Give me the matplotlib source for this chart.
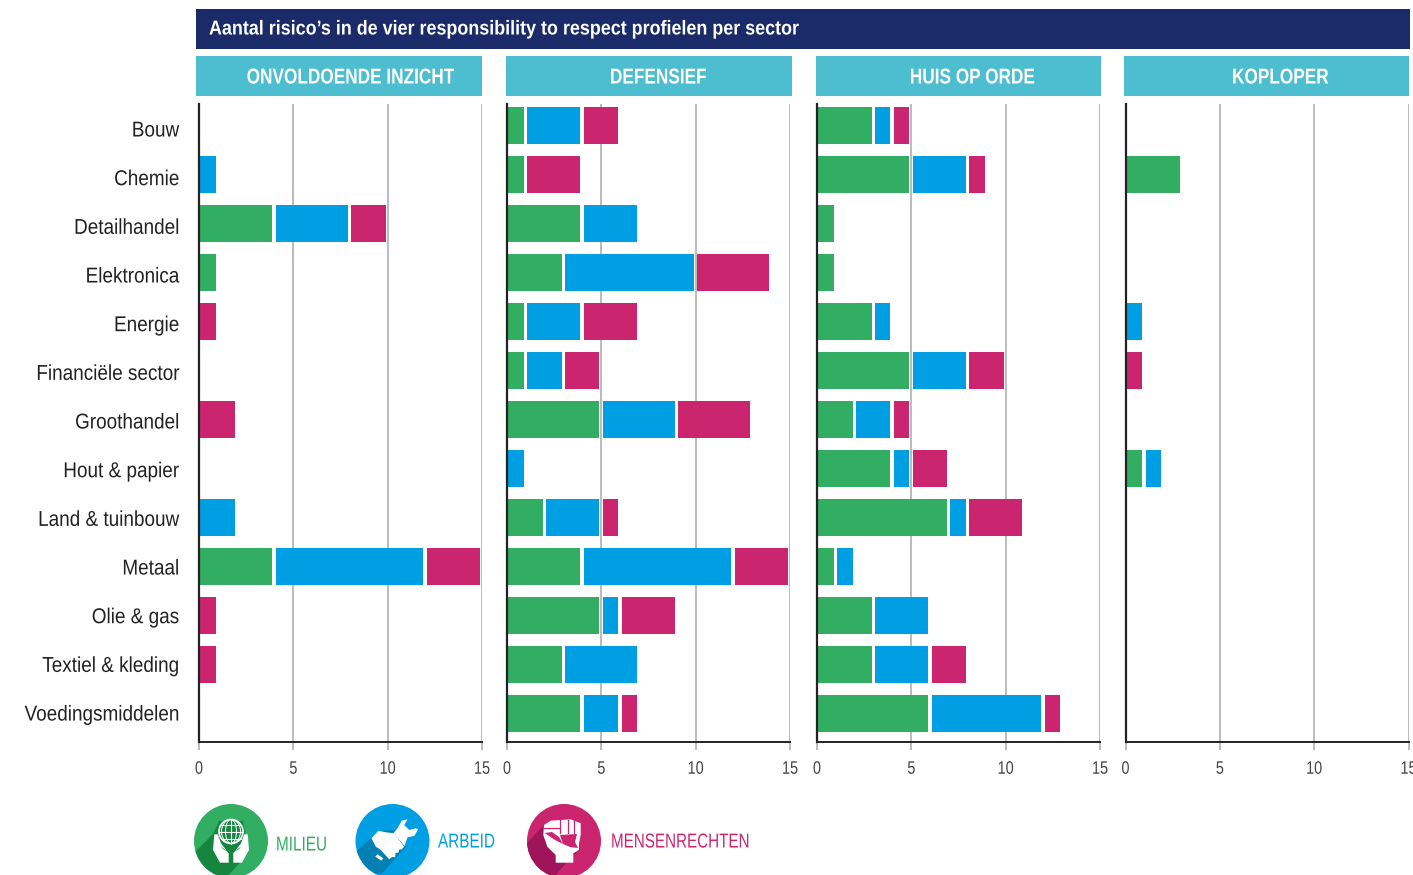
#!/usr/bin/env python3
"""Aantal risico's per sector in de vier responsibility to respect profielen."""

from __future__ import annotations

import matplotlib

matplotlib.use("Agg")

import matplotlib.pyplot as plt
from matplotlib.patches import Circle, Ellipse, Polygon, Rectangle
from matplotlib.patheffects import AbstractPathEffect
from matplotlib.transforms import Affine2D

plt.rcParams["font.family"] = ["Liberation Sans", "DejaVu Sans"]

WIDTH = 1413
HEIGHT = 875

TITLE = "Aantal risico’s in de vier responsibility to respect profielen per sector"
SECTORS = [
    "Bouw", "Chemie", "Detailhandel", "Elektronica", "Energie",
    "Financiële sector", "Groothandel", "Hout & papier", "Land & tuinbouw",
    "Metaal", "Olie & gas", "Textiel & kleding", "Voedingsmiddelen",
]
PROFILES = ["ONVOLDOENDE INZICHT", "DEFENSIEF", "HUIS OP ORDE", "KOPLOPER"]
TICKS = [0, 5, 10, 15]

MILIEU = [
    [0, 0, 4, 1, 0, 0, 0, 0, 0, 4, 0, 0, 0],
    [1, 1, 4, 3, 1, 1, 5, 0, 2, 4, 5, 3, 4],
    [3, 5, 1, 1, 3, 5, 2, 4, 7, 1, 3, 3, 6],
    [0, 3, 0, 0, 0, 0, 0, 1, 0, 0, 0, 0, 0],
]
ARBEID = [
    [0, 1, 4, 0, 0, 0, 0, 0, 2, 8, 0, 0, 0],
    [3, 0, 3, 7, 3, 2, 4, 1, 3, 8, 1, 4, 2],
    [1, 3, 0, 0, 1, 3, 2, 1, 1, 1, 3, 3, 6],
    [0, 0, 0, 0, 1, 0, 0, 1, 0, 0, 0, 0, 0],
]
MENSENRECHTEN = [
    [0, 0, 2, 0, 1, 0, 2, 0, 0, 3, 1, 1, 0],
    [2, 3, 0, 4, 3, 2, 4, 0, 1, 3, 3, 0, 1],
    [1, 1, 0, 0, 0, 2, 1, 2, 3, 0, 0, 2, 1],
    [0, 0, 0, 0, 0, 1, 0, 0, 0, 0, 0, 0, 0],
]

GREEN = "#31ae62"
BLUE = "#009fe3"
MAGENTA = "#cb2570"
NAVY = "#1b2a68"
TEAL = "#4dbdd0"

PANEL_LEFT = [199, 507, 817, 1125.5]
PANEL_WIDTH = 283
HEADER_SPANS = [(196, 482), (506, 792), (816, 1101), (1124, 1409)]
HEADER_CENTERS = [350, 658, 972, 1280]
GAP_BEFORE = 0.07  # white gap around segment joins, in axis units
GAP_AFTER = 0.11
ICON_Y = 841


class Squeeze(AbstractPathEffect):
    """Narrow a text around a pixel x, there is no condensed font installed."""

    def __init__(self, anchor_x, factor):
        super().__init__()
        self.anchor_x = anchor_x
        self.factor = factor

    def draw_path(self, renderer, gc, tpath, affine, rgbFace=None):
        squeeze = Affine2D().translate(-self.anchor_x, 0).scale(self.factor, 1).translate(self.anchor_x, 0)
        renderer.draw_path(gc, tpath, affine + squeeze, rgbFace)


def add_pixel_axes(fig):
    """Full figure axes in reference pixels, for headers, labels and icons."""
    ax = fig.add_axes([0, 0, 1, 1], zorder=5)
    ax.set_xlim(0, WIDTH)
    ax.set_ylim(HEIGHT, 0)
    ax.axis("off")
    ax.patch.set_alpha(0)
    return ax


def narrow_text(ax, x, y, text, factor, **kwargs):
    label = ax.text(x, y, text, va="center", **kwargs)
    label.set_path_effects([Squeeze(x, factor)])
    return label


def draw_headers(ax):
    ax.add_patch(Rectangle((196, 9), 1214, 40, color=NAVY, lw=0))
    narrow_text(ax, 209, 29, TITLE, 0.89, color="white", fontsize=14.5,
                fontweight="bold", ha="left")
    for (x0, x1), center, name in zip(HEADER_SPANS, HEADER_CENTERS, PROFILES):
        ax.add_patch(Rectangle((x0, 56), x1 - x0, 40, color=TEAL, lw=0))
        narrow_text(ax, center, 78, name, 0.8, color="white", fontsize=15.5,
                    fontweight="bold", ha="center")


def draw_panel(fig, left, milieu, arbeid, mensenrechten):
    # axis runs 104..742 px, the row pitch is 49 px with first bar centre at 125.5
    ax = fig.add_axes([left / WIDTH, 1 - 742 / HEIGHT, PANEL_WIDTH / WIDTH, 638 / HEIGHT])
    ax.set_xlim(0, 15)
    ax.set_ylim((742 - 125.5) / 49, (104 - 125.5) / 49)
    ax.patch.set_alpha(0)

    lefts = [0] * len(SECTORS)
    for values, color in ((milieu, GREEN), (arbeid, BLUE), (mensenrechten, MAGENTA)):
        for row, value in enumerate(values):
            if value > 0:
                start = lefts[row] + (GAP_BEFORE if lefts[row] > 0 else 0)
                end = lefts[row] + value - GAP_AFTER
                ax.barh(row, end - start, left=start, height=0.755,
                        color=color, linewidth=0, zorder=2)
            lefts[row] += value

    ax.set_xticks(TICKS)
    ax.set_yticks([])
    ax.grid(True, axis="x", color="#b5b5b5", linewidth=1.3, zorder=1)
    ax.set_axisbelow(True)
    ax.tick_params(axis="x", length=5.5, width=1.3, color="#b5b5b5", pad=8,
                   labelsize=13, labelcolor="#444444")
    ax.get_xticklines()[0].set_color("#222222")
    px_per_unit = PANEL_WIDTH / 15
    for tick, label in zip(TICKS, ax.get_xticklabels()):
        label.set_path_effects([Squeeze(left + tick * px_per_unit, 0.8)])
    for name in ("top", "right"):
        ax.spines[name].set_visible(False)
    ax.spines["left"].set_linewidth(1.6)
    ax.spines["left"].set_color("#222222")
    ax.spines["bottom"].set_linewidth(1.4)
    ax.spines["bottom"].set_color("#222222")
    ax.spines["left"].set_zorder(4)
    return ax


def draw_sector_labels(ax):
    for i, sector in enumerate(SECTORS):
        narrow_text(ax, 179, 131 + i * 48.67, sector, 0.88, ha="right",
                    fontsize=15.5, color="#222222")


def icon_poly(ax, cx, pts, color="white"):
    poly = Polygon([(cx + x, ICON_Y + y) for x, y in pts], color=color, lw=0)
    ax.add_patch(poly)
    return poly


def icon_base(ax, cx, color, shadow, shadow_shape):
    disc = Circle((cx, ICON_Y), 37, color=color, lw=0)
    ax.add_patch(disc)
    icon_poly(ax, cx, shadow_shape, shadow).set_clip_path(disc)


def draw_milieu_icon(ax, cx):
    icon_base(ax, cx, GREEN, "#16863f",
              [(-42, 17), (-18, -7), (-12, -20), (12, -20), (17, 8), (16, 14), (-8, 40), (-42, 40)])
    globe_y = ICON_Y - 9.5
    ax.add_patch(Circle((cx, globe_y), 12, fill=False, ec="white", lw=1.2))
    for width in (11, 19):
        ax.add_patch(Ellipse((cx, globe_y), width, 24, fill=False, ec="white", lw=0.7))
    ax.plot([cx, cx], [globe_y - 12, globe_y + 12], color="white", lw=0.8)
    for dy, half in ((-7, 9.7), (0, 12), (7, 9.7)):
        ax.plot([cx - half, cx + half], [globe_y + dy] * 2, color="white", lw=0.8)
    hand = [(-16.7, -6.7), (-18, 9), (-11, 21.7), (-2.3, 21.7), (-2.3, 12.3),
            (-10, 2.3), (-13.3, -6.7)]
    thumb_gap = [(-10, 6), (-5, 9), (-3, 11), (-8, 8)]
    for sign in (1, -1):
        icon_poly(ax, cx, [(sign * x, y) for x, y in hand])
        icon_poly(ax, cx, [(sign * x, y) for x, y in thumb_gap], "#16863f")


def draw_arbeid_icon(ax, cx):
    icon_base(ax, cx, BLUE, "#0280b4",
              [(-42, 15), (-21, -3), (-14, -10), (3, -11), (8, -6), (13, 6), (-10, 32), (-42, 40)])
    icon_poly(ax, cx, [(-21, -2.7), (-14, -10.3), (-6.7, -8.7), (1.7, -7.7), (11.7, 5.7), (9, 8.5),
                       (6.7, 8.5), (6, 11.5), (3, 12), (2.7, 16.3), (-0.5, 16), (-3.3, 18.3),
                       (-11.7, 9), (-16.7, 5.7)])
    icon_poly(ax, cx, [(-17.3, 15.7), (-15, 13.3), (-9.3, 17.3), (-11, 19.7)])
    icon_poly(ax, cx, [(1, -8), (5, -12.7), (9.3, -20.3), (15, -21.7), (11.7, -16), (16.7, -11),
                       (23.3, -12.7), (25.7, -11.7), (21.7, -5), (15, -3.7), (12, 5)])


def draw_mensenrechten_icon(ax, cx):
    icon_base(ax, cx, MAGENTA, "#a0145b",
              [(-42, 7), (-20, -16), (0, -10), (16, 9), (9.5, 14), (-10, 36), (-42, 40)])
    icon_poly(ax, cx, [(-20, -16), (-13.3, -20.3), (6.7, -21.7), (16.7, -17.7), (16.7, -6), (15, 2.3),
                       (15, 9), (9.3, 12.3), (9.3, 21.7), (-8.3, 21.7), (-8.3, 14), (-16.7, 5.7),
                       (-20.7, -6)])
    # finger gaps and the bird in the fist
    for x in (-4, 3.5, 10):
        ax.plot([cx + x, cx + x], [ICON_Y - 21, ICON_Y - 8], color=MAGENTA, lw=0.9)
    ax.plot([cx - 20, cx - 4], [ICON_Y - 13, ICON_Y - 13], color=MAGENTA, lw=0.9)
    icon_poly(ax, cx, [(-19.3, -8), (-12, -9), (-5, -4), (-1, 3), (-9, -1)], MAGENTA)
    icon_poly(ax, cx, [(-4, -6), (13, -7), (11, 1), (14, 7), (6, 6), (-1, 3)], MAGENTA)


def draw_legend(ax):
    draw_milieu_icon(ax, 231)
    narrow_text(ax, 276, 845, "MILIEU", 0.76, color=GREEN, fontsize=14.5, ha="left")
    draw_arbeid_icon(ax, 392.5)
    narrow_text(ax, 438, 842, "ARBEID", 0.76, color=BLUE, fontsize=14.5, ha="left")
    draw_mensenrechten_icon(ax, 564)
    narrow_text(ax, 611, 842, "MENSENRECHTEN", 0.755, color=MAGENTA, fontsize=14.5, ha="left")


def main() -> None:
    fig = plt.figure(figsize=(WIDTH / 100, HEIGHT / 100), dpi=100)
    overlay = add_pixel_axes(fig)
    draw_headers(overlay)
    draw_sector_labels(overlay)
    draw_legend(overlay)
    for i, left in enumerate(PANEL_LEFT):
        draw_panel(fig, left, MILIEU[i], ARBEID[i], MENSENRECHTEN[i])
    fig.savefig("out.png", dpi=100)
    plt.close(fig)


if __name__ == "__main__":
    main()
